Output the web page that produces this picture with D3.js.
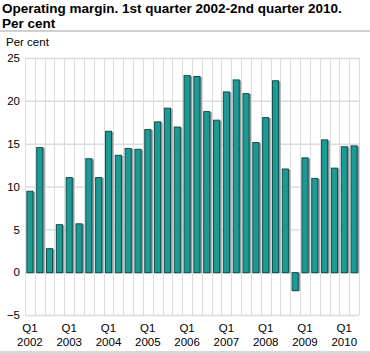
<!DOCTYPE html>
<html>
<head>
<meta charset="utf-8">
<script src="https://cdn.jsdelivr.net/npm/d3@7"></script>
<style>
  body { margin: 0; background: #fff; }
  svg { font-family: "Liberation Sans", Arial, sans-serif; }
  .title { font-size: 13.5px; font-weight: bold; fill: #000; }
  .tick text { font-size: 11.5px; fill: #000; font-family: "Liberation Sans", Arial, sans-serif; }
</style>
</head>
<body>
<svg width="370" height="354"></svg>
<script>
const svg = d3.select('svg');
const width = +svg.attr('width');
const height = +svg.attr('height');

// quarters Q1 2002 - Q2 2010
const years = ['2002', '2003', '2004', '2005', '2006', '2007', '2008', '2009', '2010'];
const quarters = years.flatMap(y => ['Q1', 'Q2', 'Q3', 'Q4'].map(q => q + ' ' + y)).slice(0, 34);
const values = [9.5, 14.6, 2.8, 5.6, 11.1, 5.7, 13.3, 11.1, 16.5, 13.7, 14.5, 14.4,
  16.7, 17.6, 19.2, 17.0, 23.0, 22.9, 18.8, 17.8, 21.1, 22.5, 20.9, 15.2,
  18.1, 22.4, 12.1, -2.1, 13.4, 11.0, 15.5, 12.2, 14.7, 14.8];
const yTicks = [-5, 0, 5, 10, 15, 20, 25];

const margin = {top: 58, right: 11, bottom: 39, left: 25};
const innerWidth = width - margin.left - margin.right;
const innerHeight = height - margin.top - margin.bottom;

// title
svg.append('text').attr('class', 'title').attr('x', 2).attr('y', 13)
  .text('Operating margin. 1st quarter 2002-2nd quarter 2010.');
svg.append('text').attr('class', 'title').attr('x', 2).attr('y', 28)
  .text('Per cent');
svg.append('rect').attr('x', 0).attr('y', 30).attr('width', width).attr('height', 2)
  .attr('fill', '#d0d0d0');
svg.append('rect').attr('x', 0).attr('y', 351).attr('width', width).attr('height', 3)
  .attr('fill', '#d8d8d8');
svg.append('text').attr('x', 6).attr('y', 46).attr('font-size', 11.5).text('Per cent');

const xScale = d3.scaleBand()
  .domain(quarters)
  .range([0, innerWidth])
  .paddingInner(0.28)
  .paddingOuter(0.14);

const yScale = d3.scaleLinear()
  .domain([-5, 25])
  .range([innerHeight, 0]);

const g = svg.append('g')
  .attr('transform', `translate(${margin.left}, ${margin.top})`);

// grid
const step = innerWidth / quarters.length;
g.selectAll('.vgrid').data(d3.range(quarters.length + 1))
  .enter().append('line')
    .attr('x1', i => Math.round(i * step) + 0.5)
    .attr('x2', i => Math.round(i * step) + 0.5)
    .attr('y1', 0).attr('y2', innerHeight)
    .attr('stroke', '#dcdcdc');

const yAxis = d3.axisLeft(yScale)
  .tickValues(yTicks)
  .tickSize(-innerWidth)
  .tickPadding(5);
const yAxisG = g.append('g').call(yAxis)
  .attr('font-family', '"Liberation Sans", Arial, sans-serif');
yAxisG.select('.domain').remove();
yAxisG.selectAll('.tick line').attr('stroke', '#dcdcdc').attr('stroke-width', 1.5);

// bars
const bars = g.selectAll('.bar').data(values).enter().append('g');
bars.append('rect')
  .attr('x', (d, i) => xScale(quarters[i]) + 1.5)
  .attr('y', d => yScale(Math.max(0, d)) + 1)
  .attr('width', xScale.bandwidth())
  .attr('height', d => Math.abs(yScale(d) - yScale(0)))
  .attr('fill', '#9a9a9a');
bars.append('rect')
  .attr('x', (d, i) => xScale(quarters[i]) + 0.5)
  .attr('y', d => yScale(Math.max(0, d)) + 0.5)
  .attr('width', xScale.bandwidth() - 1)
  .attr('height', d => Math.abs(yScale(d) - yScale(0)))
  .attr('fill', '#1c9b96')
  .attr('stroke', '#0f4f4c')
  .attr('stroke-width', 1);

// x labels
const xLabels = g.append('g').attr('transform', `translate(0, ${innerHeight})`)
  .selectAll('g').data(quarters.filter(q => q.startsWith('Q1')))
  .enter().append('g')
    .attr('class', 'tick')
    .attr('transform', q => `translate(${xScale(q) + xScale.bandwidth() / 2}, 0)`);
xLabels.append('text').attr('y', 17).attr('text-anchor', 'middle').text(q => q.split(' ')[0]);
xLabels.append('text').attr('y', 31).attr('text-anchor', 'middle').text(q => q.split(' ')[1]);
</script>
</body>
</html>
